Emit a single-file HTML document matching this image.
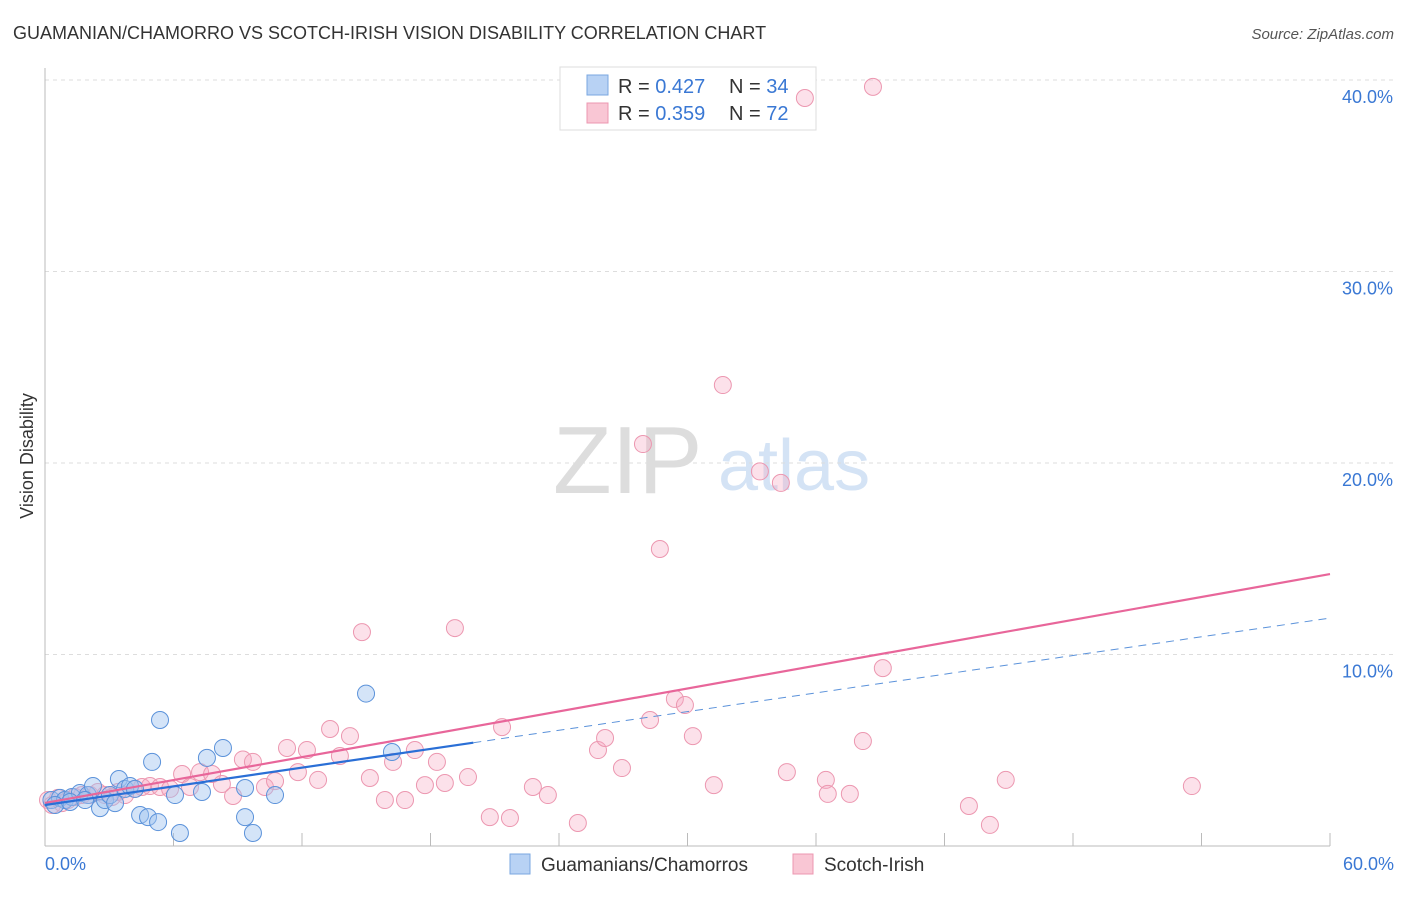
<!DOCTYPE html>
<html><head><meta charset="utf-8"><style>
body{margin:0;background:#fff;font-family:"Liberation Sans",sans-serif;}
svg text{font-family:"Liberation Sans",sans-serif;}
</style></head><body>
<svg id="chart" width="1406" height="892" viewBox="0 0 1406 892" xmlns="http://www.w3.org/2000/svg">
<text x="13" y="39" font-size="18" fill="#333">GUAMANIAN/CHAMORRO VS SCOTCH-IRISH VISION DISABILITY CORRELATION CHART</text>
<text x="1394" y="39" font-size="15" fill="#555" text-anchor="end" font-style="italic">Source: ZipAtlas.com</text>
<g>
<text x="553" y="493" font-size="96" font-family="Liberation Serif" fill="#ddd">ZIP</text>
<text x="718" y="490" font-size="72" fill="#d4e3f5">atlas</text>
</g>
<g id="grid"></g>
<line x1="45" y1="68" x2="45" y2="846" stroke="#bbb"/>
<line x1="45" y1="846" x2="1330" y2="846" stroke="#bbb"/>
<text transform="translate(33,456) rotate(-90)" font-size="18" fill="#333" text-anchor="middle">Vision Disability</text>
<text x="45" y="870" font-size="18" fill="#3a78d4">0.0%</text>
<text x="1394" y="870" font-size="18" fill="#3a78d4" text-anchor="end">60.0%</text>
<g>
<rect x="560" y="67" width="256" height="63" fill="#fff" stroke="#ddd"/>
<rect x="587" y="75" width="21" height="20" fill="#b8d2f4" stroke="#7aa7e0"/>
<rect x="587" y="103" width="21" height="20" fill="#f9c6d4" stroke="#ec97b0"/>
<text x="618" y="93" font-size="20" fill="#333">R = <tspan fill="#3a78d4">0.427</tspan></text>
<text x="729" y="93" font-size="20" fill="#333">N = <tspan fill="#3a78d4">34</tspan></text>
<text x="618" y="120" font-size="20" fill="#333">R = <tspan fill="#3a78d4">0.359</tspan></text>
<text x="729" y="120" font-size="20" fill="#333">N = <tspan fill="#3a78d4">72</tspan></text>
</g>
<g id="pts"></g>
<g id="lines"></g>
<g>
<rect x="510" y="854" width="20" height="20" fill="#b8d2f4" stroke="#7aa7e0"/>
<text x="541" y="871" font-size="19" fill="#333">Guamanians/Chamorros</text>
<rect x="793" y="854" width="20" height="20" fill="#f9c6d4" stroke="#ec97b0"/>
<text x="824" y="871" font-size="19" fill="#333">Scotch-Irish</text>
</g>
</svg>
<script>
const yTicks=[10,20,30,40];
const xTicks=[0,6,12,18,24,30,36,42,48,54,60];
const blueX=[0.3,0.7,0.93,1.26,1.63,2.0,2.24,2.57,2.8,3.03,3.27,3.45,3.74,3.97,4.44,4.81,5.0,5.28,5.37,6.07,6.3,7.33,7.56,8.31,9.34,9.34,9.71,10.74,14.99,16.2,0.47,1.17,1.87,4.2];
const blueY=[2.4,2.51,2.4,2.56,2.77,2.66,3.13,1.98,2.4,2.66,2.24,3.5,2.98,3.13,1.62,1.51,4.39,1.25,6.58,2.66,0.68,2.82,4.6,5.12,3.03,1.51,0.68,2.66,7.96,4.91,2.14,2.3,2.4,2.98];
const pinkX=[0.14,0.33,0.61,0.79,1.07,1.4,1.73,2.1,2.47,2.8,3.13,3.41,3.74,4.2,4.53,4.9,5.37,5.84,6.4,6.77,7.24,7.8,8.26,8.78,9.24,9.71,10.27,10.74,11.3,11.81,12.23,12.75,13.31,13.77,14.24,14.8,15.17,15.87,16.25,16.81,17.27,17.74,18.3,18.67,19.14,19.75,20.77,21.34,21.71,22.78,23.48,24.88,25.82,26.15,26.94,27.92,28.25,28.71,29.41,29.88,30.25,31.23,31.65,33.38,34.36,34.64,35.48,36.46,36.55,37.58,38.19,38.66,39.12,43.14,44.12,44.86,53.55];
const pinkY=[2.4,2.14,2.51,2.24,2.4,2.56,2.66,2.66,2.82,2.66,2.56,2.82,2.66,2.98,3.08,3.13,3.08,2.98,3.76,3.08,3.86,3.76,3.24,2.61,4.52,4.39,3.08,3.39,5.12,3.86,5.01,3.45,6.11,4.7,5.74,11.17,3.55,2.4,4.39,2.4,5.01,3.18,4.39,3.29,11.38,3.6,1.51,6.21,1.46,3.08,2.66,1.2,5.01,5.64,4.07,20.99,6.58,15.51,7.68,7.36,5.74,3.18,24.07,19.56,18.96,3.86,39.06,3.45,2.72,2.72,5.48,39.64,9.29,2.09,1.1,3.45,3.13];
const pinkTrend=[2.25,14.2];
const blueTrend=[2.14,11.9];
const blueSolidEnd=20;
const NS="http://www.w3.org/2000/svg";
const X=v=>45+v*(1285/60), Y=v=>846-v*19.15;
function mk(p,t,a){const e=document.createElementNS(NS,t);for(const k in a)e.setAttribute(k,a[k]);p.appendChild(e);return e;}
const grid=document.getElementById('grid');
yTicks.forEach(t=>{
 const l=mk(grid,'line',{x1:45,x2:1394,y1:Y(t),y2:Y(t),stroke:'#ddd','stroke-dasharray':'4,4'});
 
 
 const tx=mk(grid,'text',{x:1393,y:Y(t)+23,'font-size':18,fill:'#3a78d4','text-anchor':'end'});
 tx.textContent=t.toFixed(1)+'%';
 
 
});
xTicks.forEach(t=>{
 const l=mk(grid,'line',{x1:X(t),x2:X(t),y1:833,y2:846,stroke:'#bbb'});
 
 
});
const pts=document.getElementById('pts');
pinkX.forEach((x,i)=>{
 const c=mk(pts,'circle',{cx:X(x),cy:Y(pinkY[i]),r:8.5,fill:'rgba(246,170,195,0.35)',stroke:'#ec97b0','stroke-width':1});
 
 
});
blueX.forEach((x,i)=>{
 const c=mk(pts,'circle',{cx:X(x),cy:Y(blueY[i]),r:8.5,fill:'rgba(160,195,240,0.45)',stroke:'#5b92da','stroke-width':1});
 
 
});
const lines=document.getElementById('lines');
const bAt=x=>blueTrend[0]+(blueTrend[1]-blueTrend[0])*x/60;
let l1=mk(lines,'line',{x1:X(0),y1:Y(pinkTrend[0]),x2:X(60),y2:Y(pinkTrend[1]),stroke:'#e8669a','stroke-width':2.2});


let l2=mk(lines,'line',{x1:X(0),y1:Y(bAt(0)),x2:X(blueSolidEnd),y2:Y(bAt(blueSolidEnd)),stroke:'#2a6fd6','stroke-width':2.2});


let l3=mk(lines,'line',{x1:X(blueSolidEnd),y1:Y(bAt(blueSolidEnd)),x2:X(60),y2:Y(bAt(60)),stroke:'#5b92da','stroke-width':1,'stroke-dasharray':'8,6'});


</script>
</body></html>
